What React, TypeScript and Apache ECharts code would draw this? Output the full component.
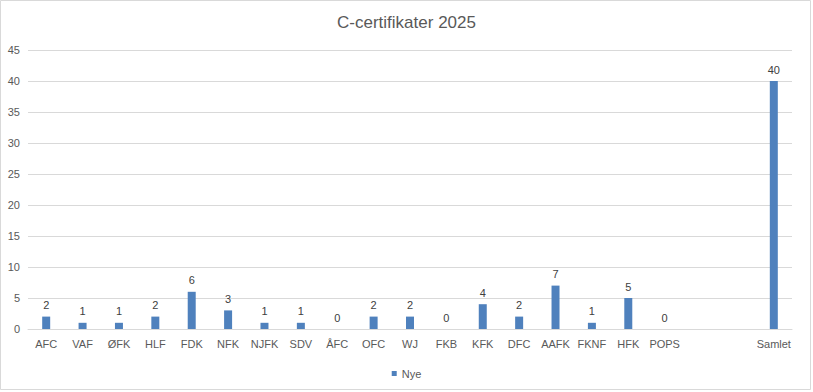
import React, { useEffect, useRef } from "react";
import * as echarts from "echarts";

const categories = ["AFC", "VAF", "ØFK", "HLF", "FDK", "NFK", "NJFK", "SDV", "ÅFC", "OFC", "WJ", "FKB", "KFK", "DFC", "AAFK", "FKNF", "HFK", "POPS", "", " ", "Samlet"];
const nyeValues: (number | null)[] = [2, 1, 1, 2, 6, 3, 1, 1, 0, 2, 2, 0, 4, 2, 7, 1, 5, 0, null, null, 40];
const seriesName = "Nye";
const titleText = "C-certifikater 2025";

export default function App() {
  const ref = useRef<HTMLDivElement>(null);
  useEffect(() => {
    if (!ref.current) return;
    const chart = echarts.init(ref.current, undefined, { renderer: "svg" });
    const font = "'Liberation Sans', Arial, sans-serif";
    chart.setOption({
      animation: false,
      backgroundColor: "#ffffff",
      textStyle: { fontFamily: font },
      title: {
        text: titleText,
        left: "center",
        top: 9,
        textStyle: { fontSize: 17, fontWeight: "normal", color: "#595959", fontFamily: font },
      },
      graphic: [
        {
          type: "rect",
          shape: { x: 0.5, y: 0.5, width: 810, height: 389 },
          style: { fill: "none", stroke: "#d9d9d9", lineWidth: 1 },
          silent: true,
        },
      ],
      legend: {
        data: [seriesName],
        top: 363,
        left: "center",
        itemWidth: 5,
        itemHeight: 5,
        itemGap: 4,
        icon: "rect",
        textStyle: { color: "#595959", fontSize: 11, fontFamily: font },
      },
      grid: { left: 28, right: 21, top: 50, bottom: 63, containLabel: false },
      xAxis: {
        type: "category",
        data: categories,
        axisLine: { lineStyle: { color: "#d9d9d9" } },
        axisTick: { show: false },
        axisLabel: { color: "#595959", fontSize: 11, margin: 9, interval: 0, fontFamily: font },
      },
      yAxis: {
        type: "value",
        min: 0,
        max: 45,
        interval: 5,
        axisLine: { show: false },
        axisTick: { show: false },
        splitLine: { lineStyle: { color: "#d9d9d9" } },
        axisLabel: { color: "#595959", fontSize: 11, margin: 8, fontFamily: font },
      },
      series: [
        {
          name: seriesName,
          type: "bar",
          data: nyeValues,
          barWidth: 8,
          itemStyle: { color: "#4f81bd" },
          label: {
            show: true,
            position: "top",
            distance: 6,
            color: "#404040",
            fontSize: 11,
            fontFamily: font,
          },
        },
      ],
    });
    return () => chart.dispose();
  }, []);
  return (
    <div
      ref={ref}
      style={{ position: "fixed", left: 0, top: 0, width: 813, height: 392 }}
    />
  );
}
